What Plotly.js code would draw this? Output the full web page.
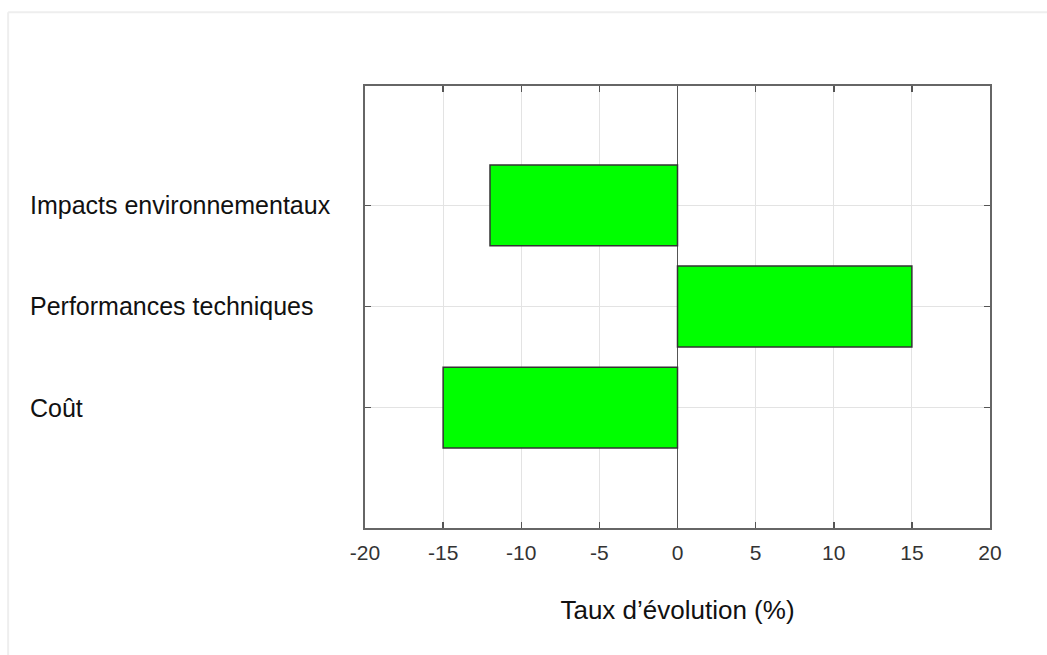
<!DOCTYPE html>
<html>
<head>
<meta charset="utf-8">
<script src="https://cdn.plot.ly/plotly-3.0.1.min.js"></script>
<style>html,body{margin:0;padding:0;background:#fff;}#chart{width:1047px;height:655px;}</style>
</head>
<body>
<div id="chart"></div>
<script>
const categories = ["Coût", "Performances techniques", "Impacts environnementaux"];
const values = [-15, 15, -12];
const xTicks = [-20, -15, -10, -5, 0, 5, 10, 15, 20];
const xTitle = "Taux d’évolution (%)";

const font = "'Liberation Sans', Arial, sans-serif";

const trace = {
  type: "bar",
  orientation: "h",
  x: values,
  y: categories,
  width: 0.8,
  marker: { color: "#00ff00", line: { color: "#333333", width: 1.5 } },
  hoverinfo: "x+y"
};

const annotations = categories.map(c => ({
  xref: "paper", yref: "y", x: -0.539, y: c,
  text: c, showarrow: false, xanchor: "left", yanchor: "middle",
  font: { family: font, size: 25, color: "#111" }
}));

const layout = {
  width: 1047, height: 655,
  margin: { l: 365, r: 57, t: 86, b: 127 },
  paper_bgcolor: "#fff", plot_bgcolor: "#fff",
  showlegend: false,
  font: { family: font },
  xaxis: {
    range: [-20, 20], tickvals: xTicks, ticktext: xTicks.map(String),
    showgrid: true, gridcolor: "#e3e3e3", gridwidth: 1,
    zeroline: true, zerolinecolor: "#555", zerolinewidth: 1.5,
    showline: true, linecolor: "#666", linewidth: 2, mirror: "ticks",
    ticks: "inside", ticklen: 6, tickcolor: "#555", tickwidth: 1.5,
    ticklabelstandoff: 5,
    tickfont: { family: font, size: 21, color: "#333" },
    title: { text: xTitle, font: { family: font, size: 26, color: "#111" }, standoff: 38 },
    fixedrange: true
  },
  yaxis: {
    type: "category", categoryorder: "array", categoryarray: categories,
    range: [-1.19, 3.18],
    showgrid: true, gridcolor: "#e3e3e3", gridwidth: 1,
    showline: true, linecolor: "#666", linewidth: 2, mirror: "ticks",
    ticks: "inside", ticklen: 6, tickcolor: "#555", tickwidth: 1.5,
    showticklabels: false,
    fixedrange: true
  },
  annotations: annotations,
  shapes: [
    { type: "line", xref: "paper", yref: "paper", x0: -0.571, x1: 1.2, y0: 1.167, y1: 1.167, line: { color: "#eeeeee", width: 2 } },
    { type: "line", xref: "paper", yref: "paper", x0: -0.571, x1: -0.571, y0: -0.3, y1: 1.167, line: { color: "#eeeeee", width: 2 } }
  ]
};

Plotly.newPlot("chart", [trace], layout, { displayModeBar: false, staticPlot: true });
</script>
</body>
</html>
